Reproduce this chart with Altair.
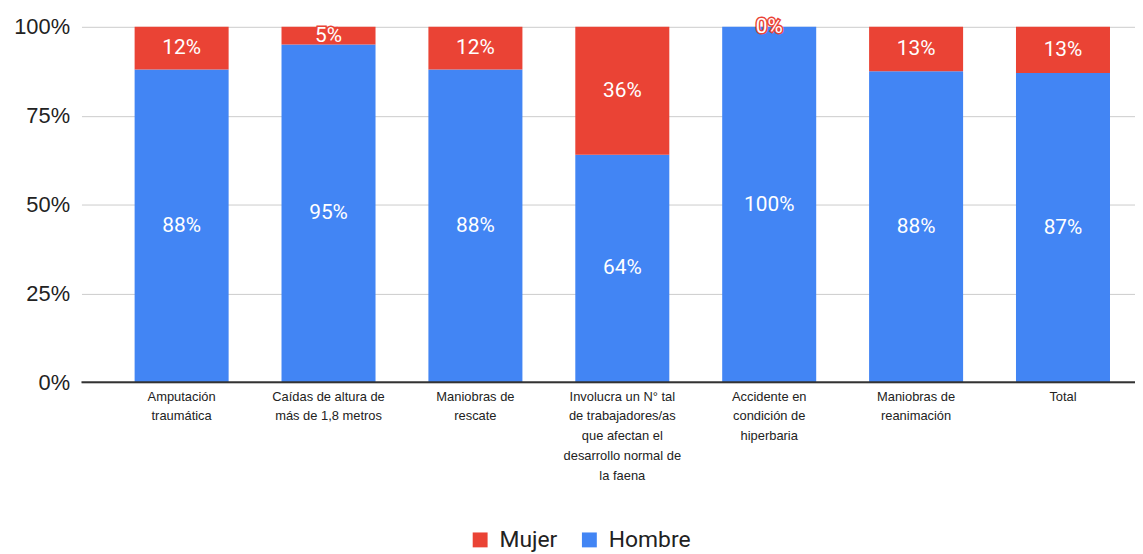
import altair as alt
import pandas as pd
import math

categorias = [
    "Amputación\ntraumática",
    "Caídas de altura de\nmás de 1,8 metros",
    "Maniobras de\nrescate",
    "Involucra un N° tal\nde trabajadores/as\nque afectan el\ndesarrollo normal de\nla faena",
    "Accidente en\ncondición de\nhiperbaria",
    "Maniobras de\nreanimación",
    "Total",
]
hombre = [88, 95, 88, 64, 100, 87.5, 87]
mujer = [12, 5, 12, 36, 0, 12.5, 13]
series = ["Mujer", "Hombre"]
colores = ["#EA4335", "#4285F4"]

rows = []
for c, h, m in zip(categorias, hombre, mujer):
    rows.append({"cat": c, "serie": "Hombre", "valor": h, "orden": 0, "mid": h / 2,
                 "txt": f"{math.floor(h + 0.5)}%"})
    rows.append({"cat": c, "serie": "Mujer", "valor": m, "orden": 1, "mid": h + m / 2,
                 "txt": f"{math.floor(m + 0.5)}%"})
df = pd.DataFrame(rows)

xscale = alt.Scale(paddingInner=0.36, paddingOuter=0.266, align=0.68)
xenc = alt.X("cat:N", sort=categorias, title=None, scale=xscale,
             axis=alt.Axis(labelAngle=0, labelExpr="split(datum.label, '\\n')",
                           labelFont="Liberation Sans", labelFontSize=13, labelColor="#222222",
                           labelLineHeight=20, labelPadding=8, ticks=False, domain=False,
                           grid=False, labelLimit=200))

bars = alt.Chart(df).mark_bar().encode(
    x=xenc,
    y=alt.Y("valor:Q", stack="zero", title=None,
            scale=alt.Scale(domain=[0, 100], nice=False),
            axis=alt.Axis(values=[0, 25, 50, 75, 100], labelExpr="datum.value + '%'",
                          labelFont="Liberation Sans", labelFontSize=22, labelColor="#222222",
                          labelPadding=12, ticks=False, domain=False,
                          gridColor="#cccccc", gridWidth=1)),
    color=alt.Color("serie:N", scale=alt.Scale(domain=series, range=colores),
                    legend=alt.Legend(title=None, orient="none", direction="horizontal",
                                      legendX=390, legendY=505, symbolType="square",
                                      symbolSize=225, symbolStrokeWidth=0,
                                      labelFont="Roboto", labelFontSize=23,
                                      labelColor="#222222", columnPadding=20, padding=0,
                                      labelOffset=8, symbolOpacity=1)),
    order=alt.Order("orden:Q"),
)

base_rule = alt.Chart(pd.DataFrame({"y": [0]})).mark_rule(color="#333333", strokeWidth=2).encode(
    y=alt.Y("y:Q"))

outline = alt.Chart(df[df.serie == "Mujer"]).mark_text(
    font="Roboto", fontSize=21, color="white", stroke="#EA4335", strokeWidth=3,
    baseline="middle").encode(x=alt.X("cat:N", sort=categorias), y=alt.Y("mid:Q"), text="txt:N")
texts = alt.Chart(df).mark_text(
    font="Roboto", fontSize=21, color="white", baseline="middle").encode(
    x=alt.X("cat:N", sort=categorias), y=alt.Y("mid:Q"), text="txt:N")

chart = alt.layer(bars, base_rule, outline, texts).properties(
    width=1061, height=358,
    autosize=alt.AutoSizeParams(type="none"),
    padding={"left": 74, "top": 17, "right": 0, "bottom": 171},
).configure_view(stroke=None)

chart.save("out.html", embed_options={"renderer": "svg", "actions": False})
